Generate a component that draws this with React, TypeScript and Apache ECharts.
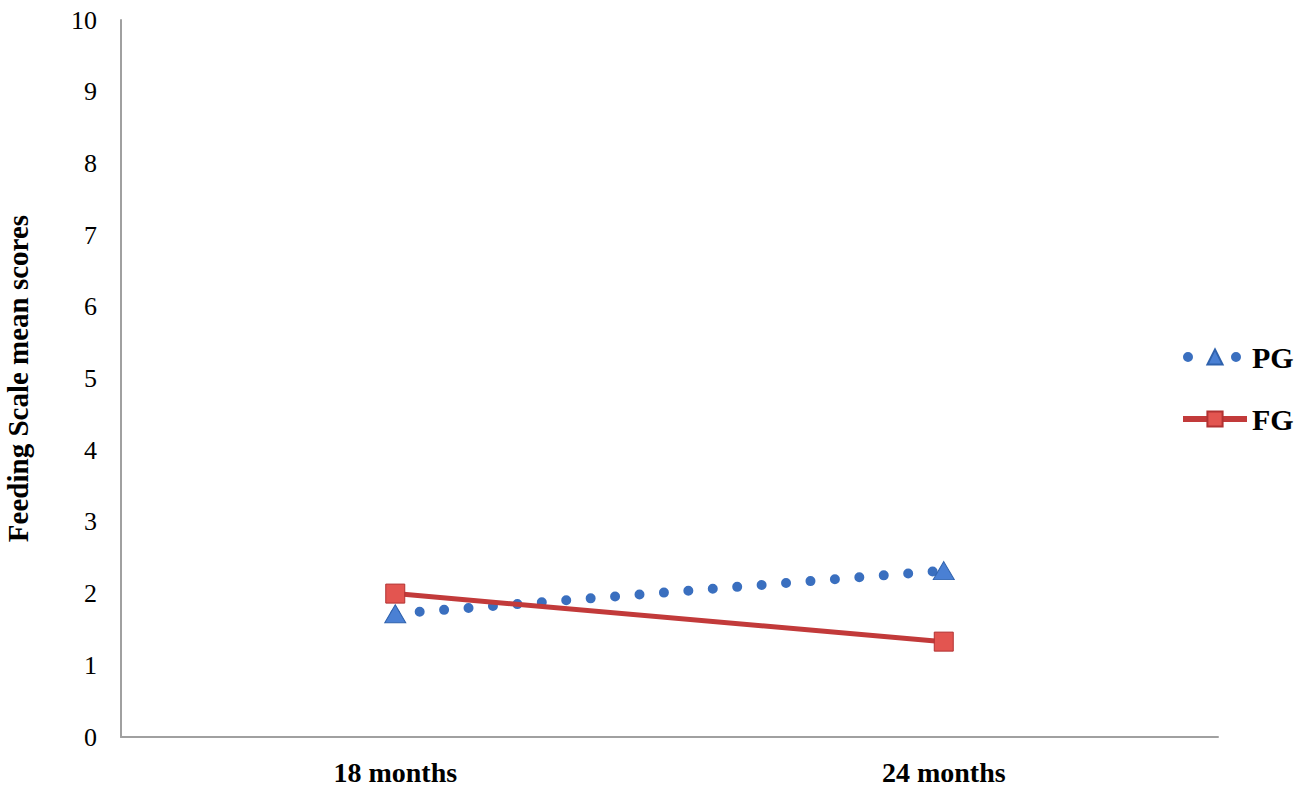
import React, { useEffect, useRef } from "react";
import * as echarts from "echarts";

const categories = ["18 months", "24 months"];
const pgValues = [1.72, 2.32];
const fgValues = [2.0, 1.33];
const yTicks = [0, 1, 2, 3, 4, 5, 6, 7, 8, 9, 10];

const FONT = "'Liberation Serif', 'Times New Roman', serif";

export default function App() {
  const ref = useRef<HTMLDivElement>(null);
  useEffect(() => {
    if (!ref.current) return;
    const chart = echarts.init(ref.current, undefined, { renderer: "svg" });
    chart.setOption({
      animation: false,
      backgroundColor: "#ffffff",
      grid: {
        left: 121,
        right: 82,
        top: 20,
        bottom: 58,
        containLabel: false,
        outerBoundsMode: "none",
      },
      legend: {
        orient: "vertical",
        left: 1178,
        top: 342,
        padding: 0,
        itemWidth: 64,
        itemHeight: 19,
        itemGap: 32,
        textStyle: { fontFamily: FONT, fontSize: 30, fontWeight: "bold", color: "#000" },
        data: [
          {
            name: "PG",
            lineStyle: { color: "#3a6fbf", width: 10, type: [0, 48], dashOffset: 43, cap: "round" },
          },
          {
            name: "FG",
            lineStyle: { color: "#c23a3a", width: 6 },
          },
        ],
      },
      xAxis: {
        type: "category",
        data: categories,
        boundaryGap: true,
        axisLine: { lineStyle: { color: "#a0a0a0", width: 2 } },
        axisTick: { show: false },
        axisLabel: {
          fontFamily: FONT,
          fontSize: 28,
          fontWeight: "bold",
          color: "#000",
          margin: 21,
        },
      },
      yAxis: {
        type: "value",
        min: yTicks[0],
        max: yTicks[yTicks.length - 1],
        interval: 1,
        name: "Feeding Scale mean scores",
        nameLocation: "middle",
        nameGap: 89,
        nameTextStyle: { fontFamily: FONT, fontSize: 29, fontWeight: "bold", color: "#000" },
        axisLine: { show: true, lineStyle: { color: "#a0a0a0", width: 2 } },
        axisTick: { show: false },
        splitLine: { show: false },
        axisLabel: { fontFamily: FONT, fontSize: 26, color: "#000", margin: 24 },
      },
      series: [
        {
          name: "PG",
          type: "line",
          data: pgValues,
          symbol: "triangle",
          symbolSize: [21, 18],
          itemStyle: { color: "#4a80d4", borderColor: "#2f62ad", borderWidth: 1 },
          lineStyle: { color: "#3a6fbf", width: 10, type: [0, 24.5], cap: "round" },
          z: 2,
        },
        {
          name: "FG",
          type: "line",
          data: fgValues,
          symbol: "rect",
          symbolSize: 19,
          itemStyle: { color: "#e35550", borderColor: "#b23232", borderWidth: 1 },
          lineStyle: { color: "#c23a3a", width: 5 },
          z: 3,
        },
      ],
    });
    return () => chart.dispose();
  }, []);
  return (
    <div
      ref={ref}
      style={{ position: "absolute", left: 0, top: 0, width: 1300, height: 795 }}
    />
  );
}
